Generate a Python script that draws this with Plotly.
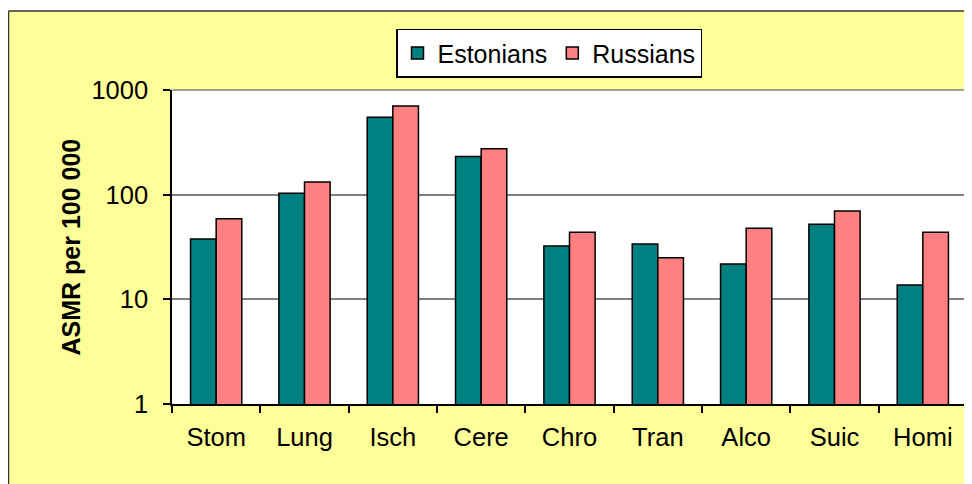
import plotly.graph_objects as go

categories = ["Stom", "Lung", "Isch", "Cere", "Chro", "Tran", "Alco", "Suic", "Homi"]
estonians = [37.8, 103, 548, 231, 32.4, 33.8, 21.8, 52.1, 13.7]
russians = [59, 132, 703, 275, 43.7, 25, 47.7, 69.8, 43.7]
y_tickvals = [1, 10, 100, 1000]
y_ticktext = ["1", "10", "100", "1000"]
y_title = "ASMR per 100 000"

FONT = "Liberation Sans, Arial, sans-serif"

fig = go.Figure()
fig.add_trace(go.Bar(name="Estonians", x=categories, y=estonians,
                     marker=dict(color="#008080", line=dict(color="black", width=1.5))))
fig.add_trace(go.Bar(name="Russians", x=categories, y=russians,
                     marker=dict(color="#FF8080", line=dict(color="black", width=1.5))))

# page has an 8px body margin; figure coordinates = page - 8
OFF = 8
W, H = 972 - OFF, 484 - OFF
L, R, T, B = 172 - OFF, 5, 90 - OFF, 484 - 404
pw, ph = W - L - R, H - T - B

def px(xpage):
    return (xpage - OFF - L) / pw

def py(ypage):
    return (H - B - (ypage - OFF)) / ph

shapes = [
    # white strip above the yellow frame
    dict(type="rect", xref="paper", yref="paper", x0=px(-20), x1=px(1000), y0=py(11), y1=py(-20),
         fillcolor="white", line=dict(width=0), layer="below"),
    # frame border
    dict(type="line", xref="paper", yref="paper", x0=px(8.5), x1=px(1000), y0=py(11), y1=py(11),
         line=dict(color="#333333", width=1.5)),
    dict(type="line", xref="paper", yref="paper", x0=px(8.5), x1=px(8.5), y0=py(11), y1=py(520),
         line=dict(color="#333333", width=1.5)),
    # plot area top/right border
    dict(type="line", xref="paper", yref="paper", x0=0, x1=1, y0=1, y1=1,
         line=dict(color="#808080", width=1.5)),
    dict(type="line", xref="paper", yref="paper", x0=1, x1=1, y0=0, y1=1,
         line=dict(color="#808080", width=1.5)),
]

fig.update_layout(
    width=W, height=H,
    margin=dict(l=L, r=R, t=T, b=B, autoexpand=False),
    paper_bgcolor="#FFFF99",
    plot_bgcolor="white",
    barmode="group",
    bargap=0.42,
    bargroupgap=0,
    font=dict(family=FONT, size=25, color="black"),
    showlegend=True,
    legend=dict(orientation="h", x=px(549), xanchor="center", y=py(28.7), yanchor="top",
                bgcolor="white", bordercolor="black", borderwidth=1.5,
                font=dict(family=FONT, size=25, color="black")),
    shapes=shapes,
    annotations=[dict(text="<b>" + y_title + "</b>", textangle=-90, xref="paper", yref="paper",
                      x=px(70), y=py(247.5), xanchor="center", yanchor="middle", showarrow=False,
                      font=dict(family=FONT, size=25, color="black"))],
)

fig.update_xaxes(
    type="category", showline=True, linecolor="black", linewidth=1.5,
    ticks="outside", tickson="boundaries", ticklen=7, tickcolor="black", tickwidth=1.5,
    showgrid=False, ticklabelstandoff=10, automargin=False,
    tickfont=dict(size=25.5),
)
fig.update_yaxes(
    type="log", range=[0, 3], tickvals=y_tickvals, ticktext=y_ticktext,
    showline=True, linecolor="black", linewidth=1.5,
    ticks="outside", ticklen=7, tickcolor="black", tickwidth=1.5,
    showgrid=True, gridcolor="#808080", gridwidth=1.5,
    zeroline=False, ticklabelstandoff=10, automargin=False,
    tickfont=dict(size=25.5),
)

fig.write_html("out.html")
